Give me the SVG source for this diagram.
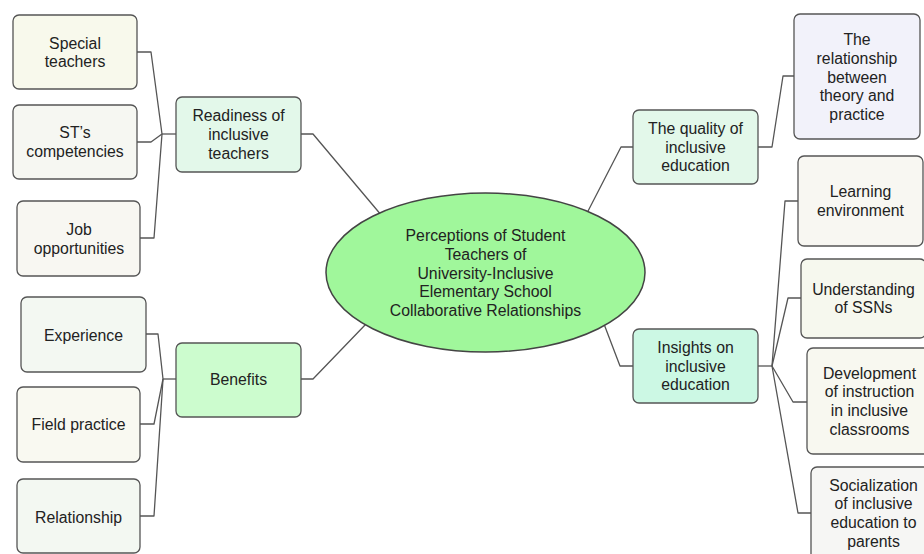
<svg xmlns="http://www.w3.org/2000/svg" width="924" height="554" viewBox="0 0 924 554">
<style>
.box{stroke:#555;stroke-width:1.3}
.t{font-family:"Liberation Sans",Arial,Helvetica,sans-serif;font-size:15.8px;fill:#222;text-anchor:middle}
.c{fill:none;stroke:#555;stroke-width:1.3;stroke-linejoin:round}
</style>
<rect width="924" height="554" fill="#fff"/>
<g id="connectors">
<polyline class="c" points="137,52 151,52 162,134"/>
<polyline class="c" points="137,142 151,142 162,134"/>
<polyline class="c" points="140,238 154,238 162,134"/>
<polyline class="c" points="162,134 176,134"/>
<polyline class="c" points="146,334 158,334 163,379"/>
<polyline class="c" points="140,424 154,424 163,379"/>
<polyline class="c" points="140,516 154,516 163,379"/>
<polyline class="c" points="163,379 176,379"/>
<polyline class="c" points="301,134 313,134 382,216"/>
<polyline class="c" points="301,379 313,379 366,324"/>
<polyline class="c" points="633,147 621,147 586,215"/>
<polyline class="c" points="758,147 772,147 783,76 794,76"/>
<polyline class="c" points="633,366 620,366 604,324"/>
<polyline class="c" points="758,366 772,366"/>
<polyline class="c" points="772,366 785,201 798,201"/>
<polyline class="c" points="772,366 788,298 801,298"/>
<polyline class="c" points="772,366 793,402 807,402"/>
<polyline class="c" points="772,366 798,513 811,513"/>
</g>
<g id="center">
<ellipse cx="485.5" cy="272.5" rx="159.5" ry="79.5" fill="#a0f79b" stroke="#444" stroke-width="1.5"/>
<text class="t"><tspan x="485.5" y="241.1">Perceptions of Student</tspan><tspan x="485.5" y="259.8">Teachers of</tspan><tspan x="485.5" y="278.5">University-Inclusive</tspan><tspan x="485.5" y="297.2">Elementary School</tspan><tspan x="485.5" y="315.9">Collaborative Relationships</tspan></text>
</g>
<g id="special-teachers">
<rect class="box" x="13" y="15" width="124" height="74" rx="6" fill="#f8f9ec"/>
<text class="t"><tspan x="75" y="48.6">Special</tspan><tspan x="75" y="67.3">teachers</tspan></text>
</g>
<g id="st-competencies">
<rect class="box" x="13" y="105" width="124" height="74" rx="6" fill="#f6f7f2"/>
<text class="t"><tspan x="75" y="138.2">ST’s</tspan><tspan x="75" y="156.9">competencies</tspan></text>
</g>
<g id="job-opportunities">
<rect class="box" x="17" y="201" width="123" height="75" rx="6" fill="#f8f7f2"/>
<text class="t"><tspan x="79" y="235.2">Job</tspan><tspan x="79" y="253.9">opportunities</tspan></text>
</g>
<g id="readiness">
<rect class="box" x="176" y="97" width="125" height="75" rx="6" fill="#e3f8ea"/>
<text class="t"><tspan x="238.5" y="121.3">Readiness of</tspan><tspan x="238.5" y="140">inclusive</tspan><tspan x="238.5" y="158.7">teachers</tspan></text>
</g>
<g id="experience">
<rect class="box" x="21" y="297" width="125" height="75" rx="6" fill="#f3f8f2"/>
<text class="t" x="83.5" y="340.5">Experience</text>
</g>
<g id="field-practice">
<rect class="box" x="17" y="387" width="123" height="75" rx="6" fill="#f9f9f1"/>
<text class="t" x="78.5" y="429.5">Field practice</text>
</g>
<g id="relationship">
<rect class="box" x="17" y="479" width="123" height="74" rx="6" fill="#f3f8f2"/>
<text class="t" x="78.5" y="522.5">Relationship</text>
</g>
<g id="benefits">
<rect class="box" x="176" y="343" width="125" height="74" rx="6" fill="#ccfcce"/>
<text class="t" x="238.5" y="384.5">Benefits</text>
</g>
<g id="quality">
<rect class="box" x="633" y="110" width="125" height="74" rx="6" fill="#e3f8ea"/>
<text class="t"><tspan x="695.5" y="133.8">The quality of</tspan><tspan x="695.5" y="152.5">inclusive</tspan><tspan x="695.5" y="171.2">education</tspan></text>
</g>
<g id="theory-practice">
<rect class="box" x="794" y="14" width="126" height="125" rx="6" fill="#f2f2fa"/>
<text class="t"><tspan x="857" y="45.1">The</tspan><tspan x="857" y="63.8">relationship</tspan><tspan x="857" y="82.5">between</tspan><tspan x="857" y="101.2">theory and</tspan><tspan x="857" y="119.9">practice</tspan></text>
</g>
<g id="learning-environment">
<rect class="box" x="798" y="156" width="125" height="90" rx="6" fill="#f8f7f2"/>
<text class="t"><tspan x="860.5" y="197.2">Learning</tspan><tspan x="860.5" y="215.9">environment</tspan></text>
</g>
<g id="understanding">
<rect class="box" x="801" y="259" width="125" height="79" rx="6" fill="#f6f8ee"/>
<text class="t"><tspan x="863.5" y="294.7">Understanding</tspan><tspan x="863.5" y="313.4">of SSNs</tspan></text>
</g>
<g id="development">
<rect class="box" x="807" y="348" width="125" height="106" rx="6" fill="#f8f8f0"/>
<text class="t"><tspan x="869.5" y="378.5">Development</tspan><tspan x="869.5" y="397.2">of instruction</tspan><tspan x="869.5" y="415.9">in inclusive</tspan><tspan x="869.5" y="434.6">classrooms</tspan></text>
</g>
<g id="socialization">
<rect class="box" x="811" y="467" width="125" height="95" rx="6" fill="#f6f6f4"/>
<text class="t"><tspan x="873.5" y="490.5">Socialization</tspan><tspan x="873.5" y="509.2">of inclusive</tspan><tspan x="873.5" y="527.9">education to</tspan><tspan x="873.5" y="546.6">parents</tspan></text>
</g>
<g id="insights">
<rect class="box" x="633" y="329" width="125" height="74" rx="6" fill="#ccf8e4"/>
<text class="t"><tspan x="695.5" y="352.8">Insights on</tspan><tspan x="695.5" y="371.5">inclusive</tspan><tspan x="695.5" y="390.2">education</tspan></text>
</g>
</svg>
